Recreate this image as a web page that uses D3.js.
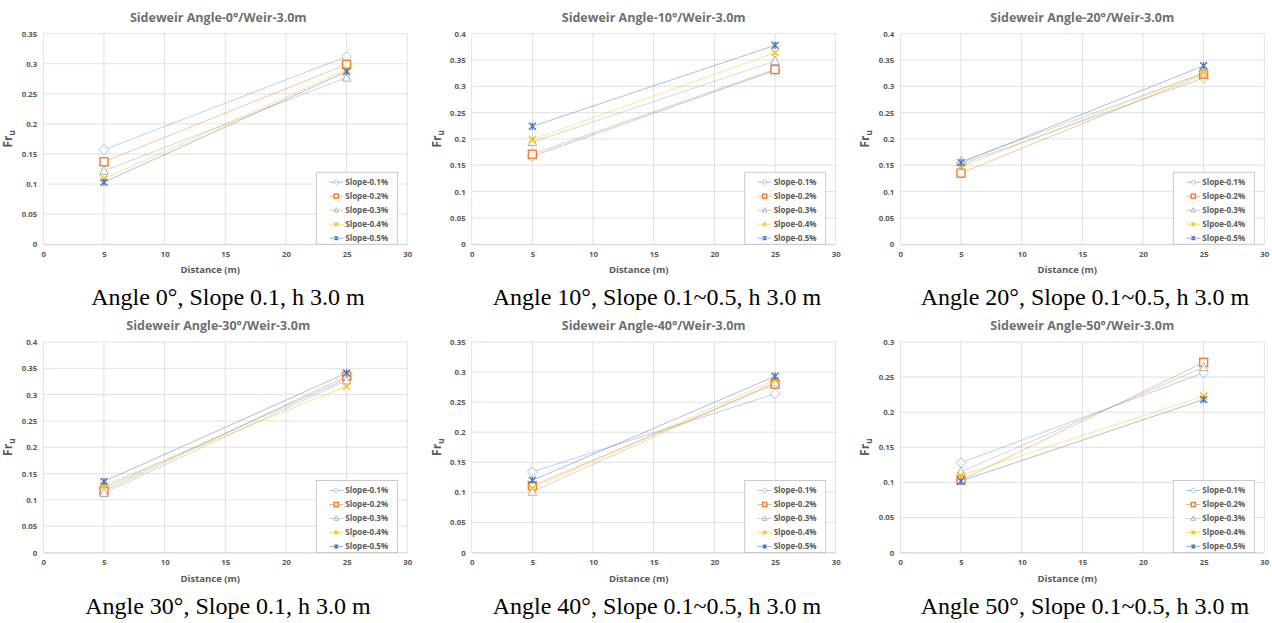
<!DOCTYPE html>
<html>
<head>
<meta charset="utf-8">
<script src="https://cdn.jsdelivr.net/npm/d3@7"></script>
<style>
  body { margin: 0; background: #fff; }
  svg text { font-family: "Open Sans", "Noto Sans", sans-serif; }
  svg text.caption { font-family: "Liberation Serif", "Times New Roman", serif; }
</style>
</head>
<body>
<svg id="chart" width="1272" height="623"></svg>
<script>
// x positions (m)
const distances = [5, 25];
const seriesNames = ["Slope-0.1%", "Slope-0.2%", "Slope-0.3%", "Slpoe-0.4%", "Slope-0.5%"];
const seriesColors = ["#5B9BD5", "#ED7D31", "#A5A5A5", "#FFC000", "#4472C4"];
const markerTypes = ["diamond", "square", "triangle", "x", "star"];

const titles = [
    "Sideweir Angle-0°/Weir-3.0m", "Sideweir Angle-10°/Weir-3.0m", "Sideweir Angle-20°/Weir-3.0m",
    "Sideweir Angle-30°/Weir-3.0m", "Sideweir Angle-40°/Weir-3.0m", "Sideweir Angle-50°/Weir-3.0m"
];
const captions = [
    "Angle 0°, Slope 0.1, h 3.0 m", "Angle 10°, Slope 0.1~0.5, h 3.0 m", "Angle 20°, Slope 0.1~0.5, h 3.0 m",
    "Angle 30°, Slope 0.1, h 3.0 m", "Angle 40°, Slope 0.1~0.5, h 3.0 m", "Angle 50°, Slope 0.1~0.5, h 3.0 m"
];
const yMaxes = [0.35, 0.4, 0.4, 0.4, 0.35, 0.3];
const xTicks = [0, 5, 10, 15, 20, 25, 30];

// Fr_u per slope series: [at 5 m, at 25 m]
const angle0 = [[0.157, 0.312], [0.137, 0.299], [0.122, 0.277], [0.109, 0.290], [0.103, 0.287]];
const angle10 = [[0.167, 0.330], [0.171, 0.332], [0.194, 0.348], [0.199, 0.364], [0.224, 0.378]];
const angle20 = [[0.152, 0.316], [0.135, 0.323], [0.157, 0.325], [0.147, 0.326], [0.155, 0.339]];
const angle30 = [[0.123, 0.330], [0.117, 0.335], [0.113, 0.327], [0.128, 0.316], [0.135, 0.341]];
const angle40 = [[0.134, 0.264], [0.111, 0.280], [0.101, 0.283], [0.107, 0.287], [0.120, 0.293]];
const angle50 = [[0.128, 0.256], [0.103, 0.271], [0.115, 0.264], [0.110, 0.223], [0.102, 0.218]];
const panelData = [angle0, angle10, angle20, angle30, angle40, angle50];

const svg = d3.select("#chart");
const colLeft = [43.3, 471.7, 900.3];
const plotW = 364;
const rowTop = [33.7, 342];
const plotH = 210.5;
const textGray = "#595959";

function drawMarker(g, type, color, s) {
    if (type === "diamond") {
        g.append("path").attr("d", `M0,${-s}L${s},0L0,${s}L${-s},0Z`)
            .attr("fill", "#fff").attr("stroke", color).attr("stroke-width", 0.8).attr("opacity", 0.7);
    } else if (type === "square") {
        g.append("rect").attr("x", -s * 0.8).attr("y", -s * 0.8).attr("width", s * 1.6).attr("height", s * 1.6)
            .attr("fill", "#fff").attr("stroke", color).attr("stroke-width", 1.4);
    } else if (type === "triangle") {
        g.append("path").attr("d", `M0,${-s}L${s * 0.85},${s * 0.7}L${-s * 0.85},${s * 0.7}Z`)
            .attr("fill", "#fff").attr("stroke", color).attr("stroke-width", 1).attr("opacity", 0.85);
    } else if (type === "x") {
        g.append("path").attr("d", `M${-s * 0.7},${-s * 0.7}L${s * 0.7},${s * 0.7}M${-s * 0.7},${s * 0.7}L${s * 0.7},${-s * 0.7}`)
            .attr("fill", "none").attr("stroke", color).attr("stroke-width", 1.4);
    } else {
        g.append("path").attr("d", `M${-s * 0.7},${-s * 0.7}L${s * 0.7},${s * 0.7}M${-s * 0.7},${s * 0.7}L${s * 0.7},${-s * 0.7}M0,${-s * 0.75}L0,${s * 0.75}`)
            .attr("fill", "none").attr("stroke", color).attr("stroke-width", 1.3);
    }
}

panelData.forEach((series, p) => {
    const col = p % 3, row = Math.floor(p / 3);
    const left = colLeft[col], top = rowTop[row];
    const g = svg.append("g").attr("transform", `translate(${left},${top})`);

    const x = d3.scaleLinear().domain([0, 30]).range([0, plotW]);
    const y = d3.scaleLinear().domain([0, yMaxes[p]]).range([plotH, 0]);
    const yTicks = d3.range(0, yMaxes[p] + 0.001, 0.05);

    // grid
    g.append("g").selectAll("line").data(yTicks).join("line")
        .attr("x1", 0).attr("x2", plotW).attr("y1", d => y(d)).attr("y2", d => y(d))
        .attr("stroke", "#d9d9d9").attr("stroke-width", 0.8);
    g.append("g").selectAll("line").data(xTicks).join("line")
        .attr("y1", 0).attr("y2", plotH).attr("x1", d => x(d)).attr("x2", d => x(d))
        .attr("stroke", "#d9d9d9").attr("stroke-width", 0.8);

    // axes
    const yAxis = g.append("g")
        .call(d3.axisLeft(y).tickValues(yTicks).tickSize(0).tickPadding(6).tickFormat(d => String(+d.toFixed(2))));
    yAxis.select(".domain").remove();
    const xAxis = g.append("g").attr("transform", `translate(0,${plotH})`)
        .call(d3.axisBottom(x).tickValues(xTicks).tickSize(0).tickPadding(7));
    xAxis.select(".domain").attr("stroke", "#d9d9d9");
    g.selectAll(".tick text").attr("fill", textGray).attr("font-size", 7.8).attr("font-weight", "bold");

    // title
    g.append("text").attr("x", plotW / 2 + (col === 0 ? -7 : 0)).attr("y", -12)
        .attr("text-anchor", "middle").attr("fill", "#6f6f6f")
        .attr("font-size", 12.5).attr("font-weight", "bold").text(titles[p]);

    // axis labels
    g.append("text").attr("x", plotW / 2 - 15).attr("y", plotH + 29)
        .attr("text-anchor", "middle").attr("fill", textGray)
        .attr("font-size", 9.5).attr("font-weight", "bold").text("Distance (m)");
    const yl = g.append("text").attr("transform", `translate(${-31},${plotH / 2}) rotate(-90)`)
        .attr("text-anchor", "middle").attr("fill", textGray)
        .attr("font-size", 12).attr("font-weight", "bold");
    yl.append("tspan").text("Fr");
    yl.append("tspan").attr("font-size", 8).attr("dy", 3).text("u");

    // lines
    const line = d3.line().x((d, i) => x(distances[i])).y(d => y(d));
    series.forEach((vals, s) => {
        g.append("path").attr("d", line(vals)).attr("fill", "none")
            .attr("stroke", seriesColors[s]).attr("stroke-width", 1).attr("opacity", 0.45);
    });
    series.forEach((vals, s) => {
        vals.forEach((v, i) => {
            const mg = g.append("g").attr("transform", `translate(${x(distances[i])},${y(v)})`);
            drawMarker(mg, markerTypes[s], seriesColors[s], 5);
        });
    });

    // legend
    const lw = 81, lh = 72;
    const lg = g.append("g").attr("transform", `translate(${plotW - lw - 10},${plotH - lh})`);
    lg.append("rect").attr("width", lw).attr("height", lh).attr("fill", "#fff")
        .attr("stroke", "#bfbfbf").attr("stroke-width", 0.8);
    seriesNames.forEach((name, s) => {
        const yy = 10 + s * 14;
        lg.append("line").attr("x1", 13).attr("x2", 27).attr("y1", yy).attr("y2", yy)
            .attr("stroke", seriesColors[s]).attr("stroke-width", 1).attr("opacity", 0.55);
        const mg = lg.append("g").attr("transform", `translate(20,${yy})`);
        drawMarker(mg, markerTypes[s], seriesColors[s], 2.6);
        lg.append("text").attr("x", 29).attr("y", yy + 2.8).attr("fill", textGray)
            .attr("font-size", 8).attr("font-weight", "bold").text(name);
    });

    // caption under chart
    svg.append("text").attr("class", "caption")
        .attr("x", [228, 657, 1085][col]).attr("y", row === 0 ? 305 : 614)
        .attr("text-anchor", "middle").attr("fill", "#000")
        .attr("font-size", 24).text(captions[p]);
});
</script>
</body>
</html>
